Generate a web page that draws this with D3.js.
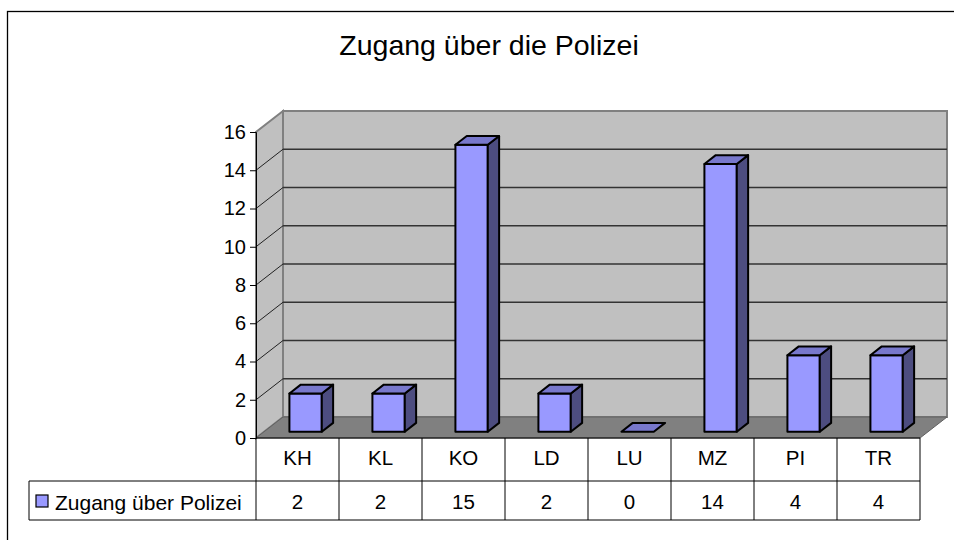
<!DOCTYPE html>
<html>
<head>
<meta charset="utf-8">
<script src="https://cdn.jsdelivr.net/npm/d3@7"></script>
<style>
  body { margin: 0; background: #fff; }
  svg { display: block; font-family: "Liberation Sans", Arial, sans-serif; }
</style>
</head>
<body>
<div id="chart"></div>
<script>
const title = 'Zugang über die Polizei';
const seriesName = 'Zugang über Polizei';
const categories = ['KH', 'KL', 'KO', 'LD', 'LU', 'MZ', 'PI', 'TR'];
const values = [2, 2, 15, 2, 0, 14, 4, 4];
const yTicks = [0, 2, 4, 6, 8, 10, 12, 14, 16];

(function () {
    const width = 954, height = 540;
    const svg = d3.select('#chart').append('svg')
        .attr('width', width)
        .attr('height', height);

    // outer chart frame (right/bottom edges fall outside the picture)
    svg.append('rect')
        .attr('x', 7.5).attr('y', 11.5)
        .attr('width', 1000).attr('height', 1000)
        .attr('fill', 'none').attr('stroke', '#000').attr('stroke-width', 1.3);

    svg.append('text')
        .attr('x', 489).attr('y', 55)
        .attr('text-anchor', 'middle')
        .attr('font-size', 28.5)
        .text(title);

    const x = d3.scaleBand().domain(categories).range([256, 920]).padding(0);
    const y = d3.scaleLinear().domain([0, 16]).range([438, 132]);

    // depth of the 3d box
    const dx = 27, dy = -21;
    const x0 = x.range()[0], x1 = x.range()[1];
    const pts = a => a.map(p => p.join(',')).join(' ');

    // back wall, side wall, floor
    svg.append('polygon')
        .attr('points', pts([[x0 + dx, y(16) + dy], [x1 + dx, y(16) + dy], [x1 + dx, y(0) + dy], [x0 + dx, y(0) + dy]]))
        .attr('fill', '#c0c0c0').attr('stroke', '#808080').attr('stroke-width', 2);
    svg.append('polygon')
        .attr('points', pts([[x0, y(0)], [x0, y(16)], [x0 + dx, y(16) + dy], [x0 + dx, y(0) + dy]]))
        .attr('fill', '#c0c0c0').attr('stroke', '#808080').attr('stroke-width', 2);
    svg.append('polygon')
        .attr('points', pts([[x0, y(0)], [x1, y(0)], [x1 + dx, y(0) + dy], [x0 + dx, y(0) + dy]]))
        .attr('fill', '#808080').attr('stroke', '#606060').attr('stroke-width', 1);

    // gridlines on back and side wall
    const grid = yTicks.filter(t => t > 0 && t < 16);
    svg.append('g').selectAll('line.back')
        .data(grid).join('line')
        .attr('x1', x0 + dx).attr('x2', x1 + dx)
        .attr('y1', d => y(d) + dy).attr('y2', d => y(d) + dy)
        .attr('stroke', '#333').attr('stroke-width', 1.5);
    svg.append('g').selectAll('line.side')
        .data(grid).join('line')
        .attr('x1', x0).attr('x2', x0 + dx)
        .attr('y1', d => y(d)).attr('y2', d => y(d) + dy)
        .attr('stroke', '#222').attr('stroke-width', 1);

    // y axis
    const axis = svg.append('g')
        .attr('transform', `translate(${x0},0)`)
        .call(d3.axisLeft(y).tickValues(yTicks).tickSize(6).tickPadding(4).tickFormat(d3.format('d')));
    axis.select('.domain').attr('stroke', '#000');
    axis.selectAll('.tick line').attr('stroke', '#000');
    axis.selectAll('.tick text')
        .attr('font-family', '"Liberation Sans", Arial, sans-serif')
        .attr('font-size', 20).attr('fill', '#000');

    // bars
    const f1 = 0.3, fd = 0.42;
    const bw = x.bandwidth() * 0.39;
    const bdx = fd * dx, bdy = fd * dy;
    const bars = svg.append('g').selectAll('g')
        .data(categories.map((c, i) => ({ c, v: values[i] })))
        .join('g')
        .attr('stroke', '#000').attr('stroke-width', 2).attr('stroke-linejoin', 'round');

    bars.each(function (d) {
        const g = d3.select(this);
        const bx = x(d.c) + (x.bandwidth() - bw) / 2 + f1 * dx;
        const yb = y(0) + f1 * dy;
        const yt = y(d.v) + f1 * dy;
        if (d.v > 0) {
            g.append('rect')
                .attr('x', bx).attr('y', yt)
                .attr('width', bw).attr('height', yb - yt)
                .attr('fill', '#9999ff');
            g.append('polygon')
                .attr('points', pts([[bx + bw, yt], [bx + bw + bdx, yt + bdy], [bx + bw + bdx, yb + bdy], [bx + bw, yb]]))
                .attr('fill', '#4d4d80');
        }
        g.append('polygon')
            .attr('points', pts([[bx, yt], [bx + bw, yt], [bx + bw + bdx, yt + bdy], [bx + bdx, yt + bdy]]))
            .attr('fill', '#7878cc');
    });

    // data table
    const rowTop = y(0), rowMid = 481, rowBot = 520, legLeft = 29;
    const table = svg.append('g').attr('stroke', '#000').attr('stroke-width', 1);
    table.append('line').attr('x1', x0).attr('x2', x1).attr('y1', rowTop).attr('y2', rowTop);
    table.append('line').attr('x1', legLeft).attr('x2', x1).attr('y1', rowMid).attr('y2', rowMid);
    table.append('line').attr('x1', legLeft).attr('x2', x1).attr('y1', rowBot).attr('y2', rowBot);
    table.append('line').attr('x1', legLeft).attr('x2', legLeft).attr('y1', rowMid).attr('y2', rowBot);
    table.selectAll('line.col')
        .data(categories.concat(['end']))
        .join('line')
        .attr('x1', d => d === 'end' ? x1 : x(d))
        .attr('x2', d => d === 'end' ? x1 : x(d))
        .attr('y1', rowTop).attr('y2', rowBot);

    svg.append('g').selectAll('text')
        .data(categories).join('text')
        .attr('x', d => x(d) + x.bandwidth() / 2)
        .attr('y', 465)
        .attr('text-anchor', 'middle')
        .attr('font-size', 20.5)
        .text(d => d);

    svg.append('g').selectAll('text')
        .data(values).join('text')
        .attr('x', (d, i) => x(categories[i]) + x.bandwidth() / 2)
        .attr('y', 509)
        .attr('text-anchor', 'middle')
        .attr('font-size', 20.5)
        .text(d => d);

    // legend key
    svg.append('rect')
        .attr('x', 36).attr('y', 495)
        .attr('width', 12).attr('height', 12)
        .attr('fill', '#9999ff').attr('stroke', '#000').attr('stroke-width', 1.2);
    svg.append('text')
        .attr('x', 55).attr('y', 510)
        .attr('font-size', 21)
        .text(seriesName);
})();
</script>
</body>
</html>
